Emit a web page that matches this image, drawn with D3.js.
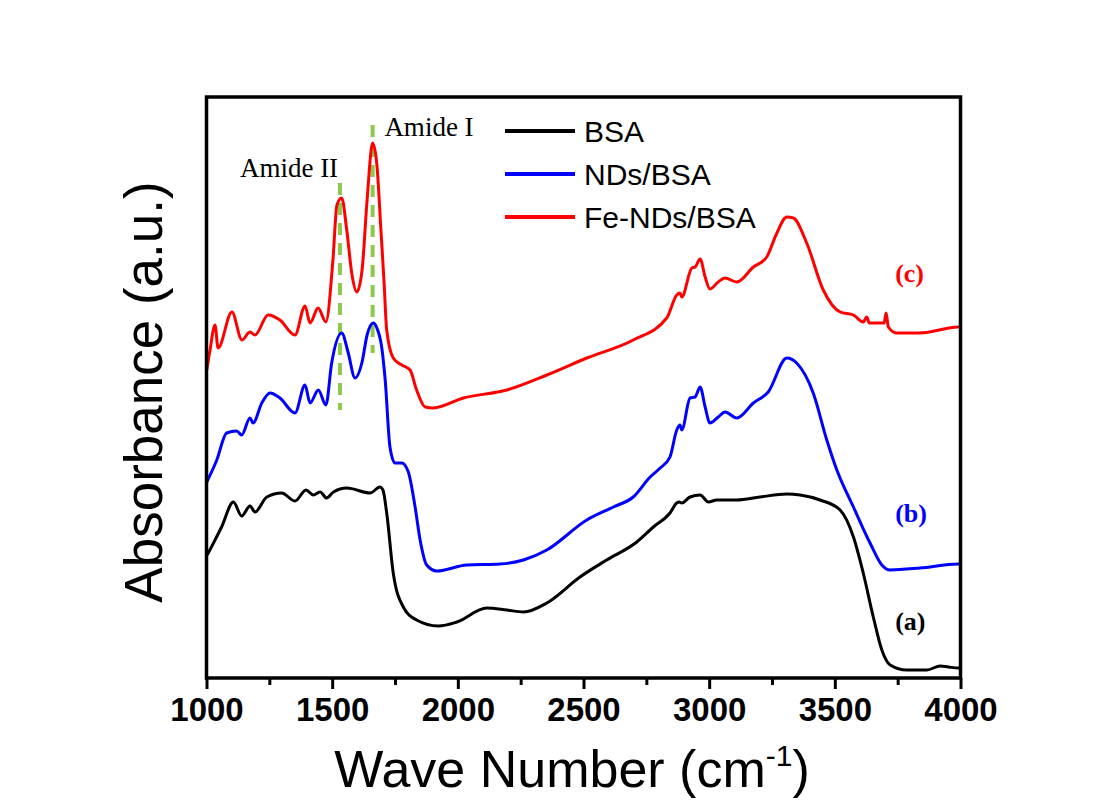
<!DOCTYPE html>
<html>
<head>
<meta charset="utf-8">
<script src="https://cdn.jsdelivr.net/npm/d3@7"></script>
<style>
  body { margin: 0; background: #fff; }
  text { font-family: Arial, "Liberation Sans", sans-serif; }
</style>
</head>
<body>
<svg id="chart" width="1102" height="803"></svg>
<script>
// FTIR spectra (absorbance in arbitrary units)
var bsaWave = [1003,1034,1060,1107,1140,1173,1193,1240,1299,1352,1396,1425,1452,1478,1505,1558,1651,1690,1702,1717,1743,1783,1836,1922,1996,2115,2195,2261,2354,2486,2592,2712,2778,2844,2871,2881,2891,2924,2964,2997,3030,3110,3202,3309,3362,3441,3521,3574,3613,3653,3687,3720,3786,3866,3919,3952,3991,4000];
var bsaAbs  = [1.23,1.38,1.51,1.76,1.62,1.72,1.66,1.81,1.85,1.77,1.88,1.83,1.86,1.80,1.86,1.90,1.85,1.91,1.88,1.65,1.05,0.71,0.58,0.52,0.56,0.70,0.68,0.66,0.75,1.01,1.18,1.36,1.51,1.65,1.75,1.76,1.75,1.81,1.83,1.76,1.78,1.78,1.81,1.84,1.83,1.78,1.68,1.41,1.05,0.61,0.28,0.13,0.08,0.08,0.12,0.11,0.10,0.10];

var ndsWave = [1001,1041,1080,1120,1140,1173,1185,1220,1253,1292,1352,1392,1412,1445,1475,1498,1538,1563,1591,1619,1639,1664,1678,1697,1711,1730,1750,1777,1803,1830,1850,1876,1916,2035,2168,2261,2354,2513,2619,2698,2765,2805,2844,2871,2884,2891,2924,2944,2964,2984,3003,3036,3063,3110,3176,3235,3309,3348,3414,3468,3508,3574,3640,3687,3720,3839,3991,4000];
var ndsAbs  = [1.96,2.18,2.45,2.47,2.43,2.60,2.55,2.75,2.85,2.80,2.65,2.93,2.75,2.88,2.73,3.15,3.45,3.26,3.00,3.16,3.43,3.55,3.50,3.31,2.98,2.31,2.15,2.15,2.06,1.71,1.38,1.13,1.07,1.13,1.14,1.18,1.28,1.58,1.71,1.81,2.01,2.10,2.21,2.48,2.53,2.48,2.80,2.81,2.91,2.71,2.55,2.61,2.66,2.60,2.75,2.86,3.20,3.15,2.85,2.38,2.08,1.71,1.35,1.13,1.08,1.10,1.14,1.14];

var feWave = [1001,1014,1034,1046,1101,1141,1173,1193,1245,1292,1352,1392,1412,1444,1475,1503,1519,1538,1558,1579,1598,1619,1639,1661,1678,1694,1706,1717,1743,1777,1810,1836,1870,1902,2022,2195,2354,2513,2698,2831,2871,2884,2891,2931,2944,2964,2984,3003,3036,3063,3110,3176,3229,3266,3309,3335,3388,3454,3521,3574,3613,3627,3637,3696,3704,3713,3746,3839,3991,4000];
var feAbs  = [3.08,3.28,3.53,3.30,3.66,3.38,3.46,3.43,3.63,3.58,3.43,3.72,3.55,3.70,3.56,4.18,4.73,4.80,4.48,4.03,3.86,4.08,4.78,5.35,5.13,4.48,3.98,3.48,3.20,3.13,3.08,2.88,2.71,2.70,2.80,2.88,3.03,3.20,3.38,3.60,3.83,3.85,3.81,4.10,4.11,4.19,4.01,3.89,3.96,4.00,3.96,4.11,4.21,4.43,4.61,4.60,4.35,3.88,3.66,3.63,3.56,3.61,3.55,3.55,3.65,3.51,3.45,3.45,3.51,3.51];

var seriesNames  = ["BSA", "NDs/BSA", "Fe-NDs/BSA"];
var seriesColors = ["#000000", "#0000ff", "#ff0000"];
var seriesTags   = ["(a)", "(b)", "(c)"];
var tagWave = [3740, 3740, 3740];
var tagAbs  = [0.48, 1.56, 3.96];

var amideNames = ["Amide II", "Amide I"];
var amideWave  = [1531, 1661];
var amideTop   = [4.95, 5.53];
var amideBottom = [2.68, 3.25];

var xTicks = [1000, 1500, 2000, 2500, 3000, 3500, 4000];

var svg = d3.select("#chart");
var margin = {l: 206.5, r: 960.5, t: 97, b: 678};

var x = d3.scaleLinear().domain([1000, 4000]).range([margin.l, margin.r]);
var y = d3.scaleLinear().domain([0, 5.81]).range([margin.b, margin.t]);

// dashed guide lines for the amide bands
svg.selectAll(".amide")
	.data(amideWave)
	.enter()
	.append("line")
	.attr("x1", function(d) { return x(d); })
	.attr("x2", function(d) { return x(d); })
	.attr("y1", function(d, i) { return y(amideTop[i]); })
	.attr("y2", function(d, i) { return y(amideBottom[i]); })
	.attr("stroke", "#8cc84b")
	.attr("stroke-width", 4)
	.attr("stroke-dasharray", "12,8");

var line = d3.line()
	.x(function(d) { return x(d[0]); })
	.y(function(d) { return y(d[1]); })
	.curve(d3.curveMonotoneX);

var spectra = [d3.zip(bsaWave, bsaAbs), d3.zip(ndsWave, ndsAbs), d3.zip(feWave, feAbs)];

svg.selectAll(".spectrum")
	.data(spectra)
	.enter()
	.append("path")
	.attr("d", line)
	.attr("fill", "none")
	.attr("stroke", function(d, i) { return seriesColors[i]; })
	.attr("stroke-width", 3)
	.attr("stroke-linejoin", "round");

// frame
svg.append("rect")
	.attr("x", margin.l)
	.attr("y", margin.t)
	.attr("width", margin.r - margin.l)
	.attr("height", margin.b - margin.t)
	.attr("fill", "none")
	.attr("stroke", "#000")
	.attr("stroke-width", 3.5);

// bottom axis, minor ticks first
var minor = svg.append("g")
	.attr("transform", "translate(0," + margin.b + ")")
	.call(d3.axisBottom(x).tickValues(d3.range(1250, 4000, 500)).tickSize(7).tickFormat(""));
minor.select(".domain").remove();
minor.selectAll("line").attr("stroke-width", 3);

var xAxis = svg.append("g")
	.attr("transform", "translate(0," + margin.b + ")")
	.call(d3.axisBottom(x).tickValues(xTicks).tickSize(11).tickFormat(d3.format("d")));
xAxis.select(".domain").remove();
xAxis.selectAll("line").attr("stroke-width", 3);
xAxis.selectAll("text")
	.attr("y", 20)
	.style("font-family", "Arial, 'Liberation Sans', sans-serif")
	.style("font-size", "33px")
	.style("font-weight", "bold")
	.attr("fill", "#000");

// axis titles
var xl = svg.append("text")
	.attr("x", 572)
	.attr("y", 787)
	.attr("text-anchor", "middle")
	.style("font-size", "52px")
	.text("Wave Number (cm");
xl.append("tspan").attr("dy", -21).style("font-size", "30px").text("-1");
xl.append("tspan").attr("dy", 21).text(")");

svg.append("text")
	.attr("transform", "translate(162,392)rotate(-90)")
	.attr("text-anchor", "middle")
	.style("font-size", "53px")
	.text("Absorbance (a.u.)");

// amide labels
svg.selectAll(".amideLabel")
	.data(amideNames)
	.enter()
	.append("text")
	.attr("x", function(d, i) { return i == 0 ? 289 : 429; })
	.attr("y", function(d, i) { return i == 0 ? 177 : 136; })
	.attr("text-anchor", "middle")
	.style("font-family", "'Times New Roman', 'Liberation Serif', serif")
	.style("font-size", "27px")
	.text(function(d) { return d; });

// curve tags (a) (b) (c)
svg.selectAll(".tag")
	.data(seriesTags)
	.enter()
	.append("text")
	.attr("x", function(d, i) { return x(tagWave[i]); })
	.attr("y", function(d, i) { return y(tagAbs[i]); })
	.attr("fill", function(d, i) { return seriesColors[i]; })
	.style("font-family", "'Times New Roman', 'Liberation Serif', serif")
	.style("font-weight", "bold")
	.style("font-size", "26px")
	.text(function(d) { return d; });

// legend
var legend = svg.selectAll(".legend")
	.data(seriesNames)
	.enter()
	.append("g")
	.attr("transform", function(d, i) { return "translate(505," + (131 + i * 43) + ")"; });

legend.append("line")
	.attr("x1", 0)
	.attr("x2", 70)
	.attr("stroke", function(d, i) { return seriesColors[i]; })
	.attr("stroke-width", 4);

legend.append("text")
	.attr("x", 79)
	.attr("y", 11)
	.style("font-size", "30px")
	.text(function(d) { return d; });
</script>
</body>
</html>
